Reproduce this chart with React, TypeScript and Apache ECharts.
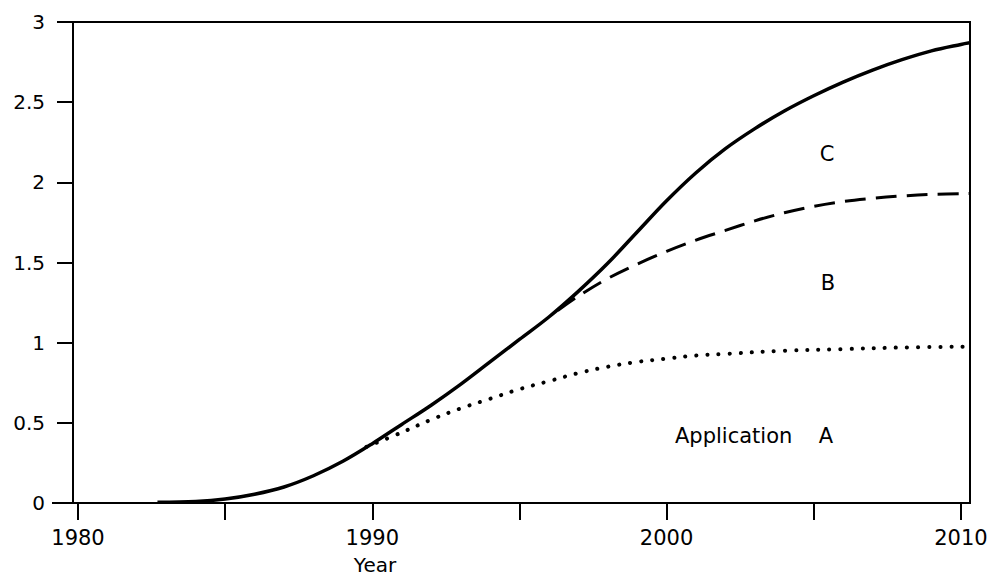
import React, { useEffect, useRef } from "react";
import * as echarts from "echarts";

// Curve C (solid)
const yearsC = [1982.7, 1984, 1985, 1986, 1987, 1988, 1989, 1990, 1991, 1992, 1993, 1994, 1995, 1996, 1997, 1998, 1999, 2000, 2001, 2002, 2003, 2004, 2005, 2006, 2007, 2008, 2009, 2010, 2010.3];
const valuesC = [0.005, 0.01, 0.025, 0.055, 0.1, 0.17, 0.26, 0.37, 0.49, 0.61, 0.74, 0.88, 1.02, 1.16, 1.32, 1.495, 1.69, 1.885, 2.06, 2.21, 2.335, 2.445, 2.54, 2.625, 2.7, 2.765, 2.82, 2.86, 2.87];

// Curve B (dashed)
const yearsB = [1996.3, 1997, 1998, 1999, 2000, 2001, 2002, 2003, 2004, 2005, 2006, 2007, 2008, 2009, 2010.3];
const valuesB = [1.2, 1.29, 1.4, 1.49, 1.57, 1.64, 1.7, 1.76, 1.81, 1.85, 1.88, 1.9, 1.915, 1.925, 1.93];

// Curve A (dotted)
const yearsA = [1989.8, 1991, 1992, 1993, 1994, 1995, 1996, 1997, 1998, 1999, 2000, 2001, 2002, 2004, 2006, 2008, 2010.3];
const valuesA = [0.35, 0.44, 0.52, 0.59, 0.65, 0.71, 0.76, 0.81, 0.85, 0.88, 0.9, 0.92, 0.93, 0.95, 0.96, 0.97, 0.975];

const xTickYears = [1980, 1985, 1990, 1995, 2000, 2005, 2010];
const xLabelYears = [1980, 1990, 2000, 2010];
const X_MIN = 1979.83;
const X_MAX = 2010.31;

const FONT = "DejaVu Sans";

function pairs(xs: number[], ys: number[]) {
  return xs.map((x, i) => [x, ys[i]]);
}

export default function App() {
  const ref = useRef<HTMLDivElement>(null);
  useEffect(() => {
    if (!ref.current) return;
    const chart = echarts.init(ref.current, null, { renderer: "svg" });
    const black = "#000";
    chart.setOption({
      animation: false,
      backgroundColor: "#fff",
      grid: {
        left: 73,
        right: 21,
        top: 22,
        bottom: 76,
        show: true,
        borderColor: black,
        borderWidth: 2,
        backgroundColor: "transparent",
      },
      xAxis: {
        type: "value",
        min: X_MIN,
        max: X_MAX,
        axisLine: { show: true, onZero: false, lineStyle: { color: black, width: 2 } },
        axisTick: { show: true, length: 17, lineStyle: { color: black, width: 2 }, customValues: xTickYears },
        axisLabel: {
          customValues: xLabelYears,
          margin: 24,
          fontSize: 21,
          fontFamily: FONT,
          color: black,
          formatter: (v: number) => String(Math.round(v)),
        },
        splitLine: { show: false },
      },
      yAxis: {
        type: "value",
        min: 0,
        max: 3,
        interval: 0.5,
        axisLine: { show: true, lineStyle: { color: black, width: 2 } },
        axisTick: { show: true, length: 16, lineStyle: { color: black, width: 2 } },
        axisLabel: { margin: 28, fontSize: 20, fontFamily: FONT, color: black },
        splitLine: { show: false },
      },
      series: [
        {
          type: "line",
          data: pairs(yearsA, valuesA),
          smooth: 0.35,
          showSymbol: false,
          lineStyle: { color: black, width: 4, type: [0.1, 11], cap: "round" },
        },
        {
          type: "line",
          data: pairs(yearsB, valuesB),
          smooth: 0.35,
          showSymbol: false,
          lineStyle: { color: black, width: 3, type: [21, 10] },
        },
        {
          type: "line",
          data: pairs(yearsC, valuesC),
          smooth: 0.35,
          showSymbol: false,
          lineStyle: { color: black, width: 3.5 },
        },
      ],
      graphic: [
        { type: "line", shape: { x1: 52, y1: 503, x2: 73, y2: 503 }, style: { stroke: black, lineWidth: 2 } },
        { type: "text", x: 375, y: 565, style: { text: "Year", fontSize: 20, fontFamily: FONT, fill: black, align: "center", verticalAlign: "middle" } },
        { type: "text", x: 827, y: 154, style: { text: "C", fontSize: 21, fontFamily: FONT, fill: black, align: "center", verticalAlign: "middle" } },
        { type: "text", x: 828, y: 283, style: { text: "B", fontSize: 21, fontFamily: FONT, fill: black, align: "center", verticalAlign: "middle" } },
        { type: "text", x: 675, y: 436, style: { text: "Application", fontSize: 21, fontFamily: FONT, fill: black, align: "left", verticalAlign: "middle" } },
        { type: "text", x: 826, y: 436, style: { text: "A", fontSize: 21, fontFamily: FONT, fill: black, align: "center", verticalAlign: "middle" } },
      ],
    });
    return () => chart.dispose();
  }, []);
  return <div ref={ref} style={{ position: "fixed", left: 0, top: 0, width: 991, height: 579 }} />;
}
